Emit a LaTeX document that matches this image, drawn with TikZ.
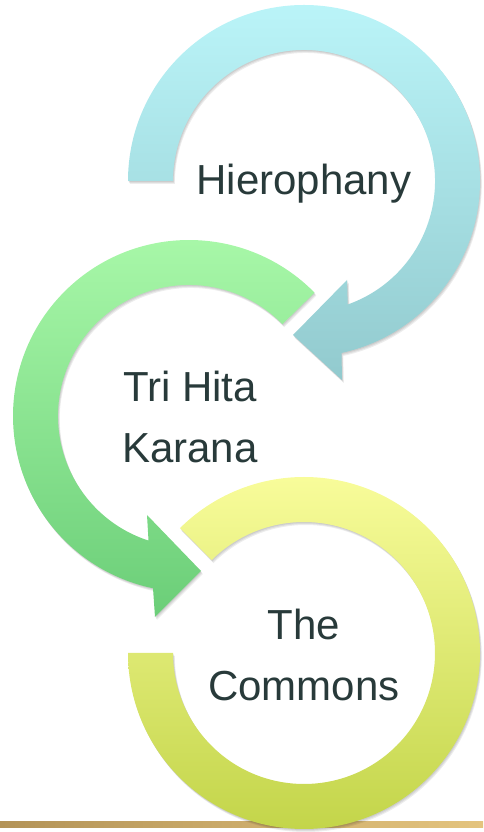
\documentclass[tikz,border=0pt]{standalone}
\usepackage{fontspec}
\setmainfont{Liberation Sans}
\usepackage{tikz}
\usetikzlibrary{calc}
\usetikzlibrary{positioning}

\definecolor{cyantop}{HTML}{BAF4F8}
\definecolor{cyanbot}{HTML}{92CACE}
\definecolor{greentop}{HTML}{AAF9AA}
\definecolor{greenbot}{HTML}{6BCE78}
\definecolor{yellowtop}{HTML}{F8FC9A}
\definecolor{yellowbot}{HTML}{C3D54A}
\definecolor{goldleft}{HTML}{B39357}
\definecolor{goldright}{HTML}{E4C47E}
\definecolor{labeltext}{HTML}{283A3A}

% arrow outlines, each one around its own centre
\newcommand{\hieroarrow}{(180:176pt) arc[start angle=180,end angle=-77.7,radius=176pt] -- (38,-199) -- (-11,-154) -- (43,-99) -- (-70.5:131pt) arc[start angle=-70.5,end angle=180,radius=131pt] -- cycle}
\newcommand{\trihitaarrow}{(44.5:176pt) arc[start angle=44.5,end angle=258.2,radius=176pt] -- (-34,-201) -- (12,-155) -- (-42,-99) -- (252:131pt) arc[start angle=252,end angle=44.5,radius=131pt] -- cycle}
\newcommand{\commonsring}{(180:176pt) arc[start angle=180,end angle=494.8,radius=176pt] -- (494.8:131pt) arc[start angle=494.8,end angle=180,radius=131pt] -- cycle}

\begin{document}
\begin{tikzpicture}[x=1pt,y=1pt]
  % some styles
  \tikzset{
    arrowtext/.style={
      font=\fontsize{42}{61}\selectfont,
      text=labeltext,
      align=center,
      inner sep=0pt
    }
  }
  \tikzset{softshadow/.style={fill=black,opacity=0.07}}

\useasboundingbox (0,0) rectangle (483,832);

% Hierophany arrow
\begin{scope}[shift={(304,651)}]
  \foreach \d in {1,...,3} {
    \fill[softshadow,shift={(0.6*\d,-\d)}] \hieroarrow;
  }
  \shade[top color=cyantop,bottom color=cyanbot] \hieroarrow;
\end{scope}

% Tri Hita Karana arrow
\begin{scope}[shift={(189,416)}]
  \foreach \d in {1,...,3} {
    \fill[softshadow,shift={(0.6*\d,-\d)}] \trihitaarrow;
  }
  \shade[top color=greentop,bottom color=greenbot] \trihitaarrow;
\end{scope}

% gold rule at the bottom
\shade[left color=goldleft,right color=goldright] (0,4) rectangle (483,10);

% The Commons ring
\begin{scope}[shift={(304,179)}]
  \foreach \d in {1,...,3} {
    \fill[softshadow,shift={(0.6*\d,-\d)}] \commonsring;
  }
  \shade[top color=yellowtop,bottom color=yellowbot] \commonsring;
\end{scope}

\node[arrowtext,anchor=base] (hiero) at (304,637) {Hierophany};
\node[arrowtext,anchor=south] (trihita) at (190,369) {Tri Hita\\Karana};
\node[arrowtext,anchor=south] (commons) at (304,131) {The\\Commons};

\end{tikzpicture}
\end{document}
